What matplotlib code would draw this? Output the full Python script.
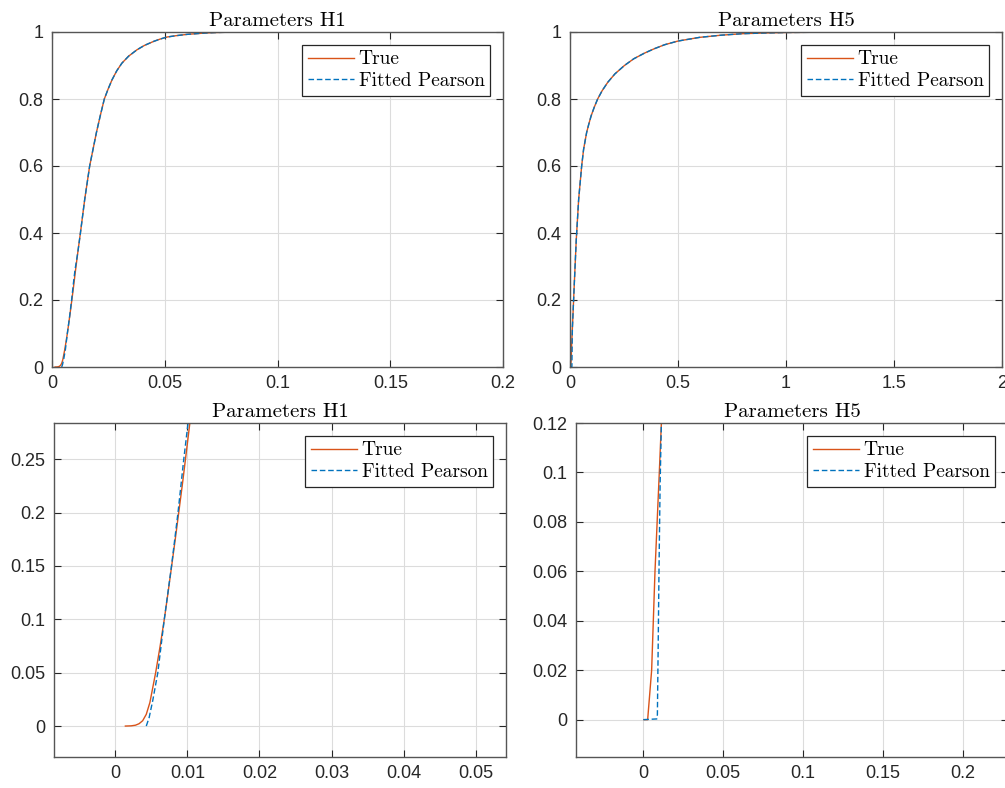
import matplotlib
matplotlib.use('Agg')
import matplotlib.pyplot as plt
from matplotlib.ticker import FuncFormatter

# MATLAB default colours
orange = '#D95319'
blue = '#0072BD'

# CDF of parameter set H1
h1_true_x = [0.0014, 0.0022, 0.0028, 0.0033, 0.0038, 0.0043, 0.0048, 0.0056, 0.0062,
             0.0068, 0.0073, 0.0078, 0.0083, 0.0088, 0.0093, 0.0097, 0.0104, 0.0114,
             0.0126, 0.0145, 0.0167, 0.0182, 0.0197, 0.0214, 0.0232, 0.0249, 0.0266,
             0.0287, 0.0310, 0.0340, 0.0377, 0.0410, 0.0451, 0.0480, 0.0510, 0.0550,
             0.0600, 0.0640, 0.0680, 0.0730, 0.0790, 0.0950, 0.1900]
h1_true_y = [0.0, 0.0002, 0.0008, 0.0022, 0.005, 0.011, 0.022, 0.05, 0.074,
             0.1, 0.124, 0.149, 0.174, 0.2, 0.226, 0.248, 0.287, 0.34,
             0.40, 0.50, 0.60, 0.65, 0.70, 0.75, 0.80, 0.83, 0.857,
             0.884, 0.907, 0.928, 0.947, 0.960, 0.972, 0.979, 0.985, 0.989,
             0.993, 0.995, 0.997, 0.9985, 0.9995, 1.0, 1.0]
h1_fit_x = [0.0043, 0.0047, 0.0052, 0.0059, 0.0068, 0.0078, 0.0087, 0.0095, 0.0102,
            0.0114, 0.0126, 0.0145, 0.0167, 0.0182, 0.0197, 0.0214, 0.0232, 0.0249,
            0.0266, 0.0287, 0.0310, 0.0340, 0.0377, 0.0410, 0.0451, 0.0480, 0.0510,
            0.0550, 0.0600, 0.0640, 0.0680, 0.0730, 0.0790, 0.0950, 0.1900]
h1_fit_y = [0.0, 0.008, 0.024, 0.05, 0.1, 0.15, 0.2, 0.25, 0.29,
            0.34, 0.40, 0.50, 0.60, 0.65, 0.70, 0.75, 0.80, 0.83,
            0.857, 0.884, 0.907, 0.928, 0.947, 0.960, 0.972, 0.979, 0.985,
            0.989, 0.993, 0.995, 0.997, 0.9985, 0.9995, 1.0, 1.0]

# CDF of parameter set H5
h5_true_x = [0.0004, 0.0027, 0.0052, 0.0073, 0.0100, 0.0113, 0.0140, 0.0200, 0.0290,
             0.0400, 0.0470, 0.0540, 0.0630, 0.0770, 0.0870, 0.0980, 0.1120, 0.1280,
             0.1490, 0.1750, 0.2080, 0.2520, 0.2950, 0.3450, 0.3900, 0.4380, 0.5000,
             0.6000, 0.7000, 0.8000, 0.9000, 1.0000, 1.2000, 1.4000, 1.8800]
h5_true_y = [0.0, 0.0, 0.02, 0.06, 0.10, 0.12, 0.16, 0.25, 0.38,
             0.50, 0.55, 0.60, 0.65, 0.70, 0.725, 0.75, 0.775, 0.80,
             0.825, 0.85, 0.875, 0.90, 0.92, 0.937, 0.95, 0.962, 0.973,
             0.984, 0.9905, 0.995, 0.997, 0.9985, 0.9996, 1.0, 1.0]
h5_fit_x = [0.0, 0.0084, 0.0088, 0.0093, 0.0098, 0.0105, 0.0113, 0.0140, 0.0200,
            0.0290, 0.0400, 0.0470, 0.0540, 0.0630, 0.0770, 0.0870, 0.0980, 0.1120,
            0.1280, 0.1490, 0.1750, 0.2080, 0.2520, 0.2950, 0.3450, 0.3900, 0.4380,
            0.5000, 0.6000, 0.7000, 0.8000, 0.9000, 1.0000, 1.2000, 1.4000, 1.8800]
h5_fit_y = [0.0, 0.0003, 0.002, 0.03, 0.06, 0.095, 0.12, 0.16, 0.25,
            0.38, 0.50, 0.55, 0.60, 0.65, 0.70, 0.725, 0.75, 0.775,
            0.80, 0.825, 0.85, 0.875, 0.90, 0.92, 0.937, 0.95, 0.962,
            0.973, 0.984, 0.9905, 0.995, 0.997, 0.9985, 0.9996, 1.0, 1.0]

titles = ['Parameters H1', 'Parameters H5', 'Parameters H1', 'Parameters H5']
labels = ['True', 'Fitted Pearson']

plt.rcParams['font.family'] = ['Liberation Sans', 'DejaVu Sans']

fig = plt.figure(figsize=(10.05, 7.88), dpi=100)
W, H = 1005, 788
boxes = [(52, 32, 503, 367), (570, 32, 1002, 367),
         (54, 423, 506, 757), (576, 423, 1008, 757)]
axes = [fig.add_axes([l / W, 1 - b / H, (r - l) / W, (b - t) / H]) for (l, t, r, b) in boxes]

curves = [(h1_true_x, h1_true_y, h1_fit_x, h1_fit_y),
          (h5_true_x, h5_true_y, h5_fit_x, h5_fit_y),
          (h1_true_x, h1_true_y, h1_fit_x, h1_fit_y),
          (h5_true_x, h5_true_y, h5_fit_x, h5_fit_y)]

xlims = [(0, 0.2), (0, 2), (-0.0085, 0.0542), (-0.0422, 0.2285)]
ylims = [(0, 1), (0, 1), (-0.029, 0.284), (-0.0151, 0.12)]
xticks = [[0, 0.05, 0.1, 0.15, 0.2], [0, 0.5, 1, 1.5, 2],
          [0, 0.01, 0.02, 0.03, 0.04, 0.05], [0, 0.05, 0.1, 0.15, 0.2]]
yticks = [[0, 0.2, 0.4, 0.6, 0.8, 1], [0, 0.2, 0.4, 0.6, 0.8, 1],
          [0, 0.05, 0.1, 0.15, 0.2, 0.25], [0, 0.02, 0.04, 0.06, 0.08, 0.1, 0.12]]

fmt = FuncFormatter(lambda v, p: '{:g}'.format(round(v, 6)))

for i, ax in enumerate(axes):
    tx, ty, fx, fy = curves[i]
    ax.plot(tx, ty, color=orange, lw=1.0, label=labels[0])
    ax.plot(fx, fy, color=blue, lw=1.0, dashes=(4, 2), label=labels[1])
    ax.set_xlim(*xlims[i])
    ax.set_ylim(*ylims[i])
    ax.set_xticks(xticks[i])
    ax.set_yticks(yticks[i])
    ax.xaxis.set_major_formatter(fmt)
    ax.yaxis.set_major_formatter(fmt)
    ax.grid(True, color='#dcdcdc', lw=0.8)
    ax.set_axisbelow(True)
    ax.tick_params(direction='in', length=5, width=0.8, top=True, right=True,
                   labelsize=13, colors='#262626', pad=6)
    for s in ax.spines.values():
        s.set_color('#555555')
        s.set_linewidth(1.0)
    ax.set_title(titles[i], family='cmr10', fontsize=15, pad=4)
    leg = ax.legend(loc='upper right', prop={'family': 'cmr10', 'size': 14},
                    fancybox=False, framealpha=1, edgecolor='#262626',
                    handlelength=2.35, handletextpad=0.25, labelspacing=0.18,
                    borderpad=0.3, borderaxespad=0.65)
    leg.get_frame().set_linewidth(0.9)

fig.savefig('out.png', dpi=100)
